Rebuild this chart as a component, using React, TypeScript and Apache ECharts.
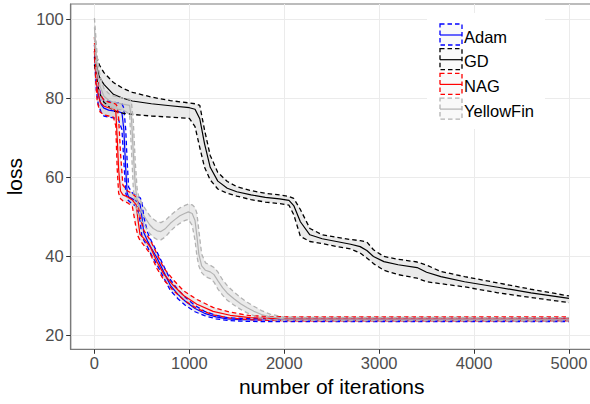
import React, { useEffect, useRef } from "react";
import * as echarts from "echarts";

const FONT = "'Liberation Sans', Arial, Helvetica, sans-serif";

const xTicks = [0, 1000, 2000, 3000, 4000, 5000];
const yTicks = [20, 40, 60, 80, 100];
const legendNames = ["Adam", "GD", "NAG", "YellowFin"];

const adamT = [0, 20, 40, 70, 100, 150, 200, 250, 290, 310, 330, 345, 360, 400, 450, 480, 500, 520, 560, 600, 660, 730, 800, 880, 960, 1060, 1160, 1280, 1400, 1550, 1750, 2000, 5000];
const adamMean = [92, 85, 81, 78.5, 77.5, 77, 76.8, 76.6, 76.3, 72, 62, 56, 55, 54.5, 53.8, 53.2, 50, 46, 43.8, 42, 39.5, 36, 32.6, 30.3, 28.5, 26.7, 25.5, 24.6, 24.1, 23.9, 23.8, 23.8, 23.8];
const adamUpper = [93.5, 88, 83.5, 80.5, 79.5, 79.2, 79, 78.8, 78.6, 77.5, 72, 64, 57.5, 56, 55.2, 54.8, 54, 50, 46, 43.8, 41, 37.5, 34, 31.5, 29.5, 27.5, 26, 25, 24.4, 24.2, 24.2, 24.2, 24.2];
const adamLower = [90.5, 82, 78.5, 76.5, 75.5, 75.2, 75, 74.8, 72, 64, 56, 54.5, 54, 53.2, 52.5, 49, 45, 44, 42.3, 40.3, 37.8, 34.5, 31.3, 29.2, 27.5, 25.9, 24.9, 24.1, 23.7, 23.5, 23.4, 23.4, 23.4];

const gdT = [0, 50, 100, 200, 300, 400, 600, 800, 1000, 1060, 1110, 1160, 1220, 1300, 1400, 1500, 1650, 1800, 1950, 2050, 2100, 2170, 2270, 2400, 2550, 2700, 2800, 2870, 2940, 3050, 3200, 3400, 3500, 3650, 3900, 4250, 4600, 5000];
const gdMean = [90.5, 85.5, 83.5, 81, 80, 79.3, 78.6, 78.1, 77.6, 77.2, 74.8, 68.5, 62.5, 59, 57.2, 56.3, 55.5, 54.9, 54.5, 54.1, 52.8, 48.7, 45.4, 44.4, 43.7, 43.0, 42.4, 41.4, 39.9, 38.6, 37.8, 37.1, 35.9, 34.8, 33.5, 32.1, 30.7, 29.3];
const gdUpper = [92.5, 88.5, 86.5, 84, 82.5, 81.5, 80.3, 79.4, 78.8, 78.6, 78.2, 72, 65.5, 61.2, 58.9, 57.6, 56.6, 55.9, 55.5, 55.1, 54.6, 51.8, 47, 45.4, 44.8, 44.2, 43.9, 43.6, 41.6, 39.9, 39.2, 38.5, 37.7, 36.1, 34.8, 33.2, 31.6, 29.9];
const gdLower = [88.5, 81.5, 79, 76.8, 76.2, 75.9, 75.5, 75.2, 74.9, 72.8, 67.5, 62.5, 59.3, 57, 55.9, 55.2, 54.3, 53.7, 53.3, 52.9, 50.5, 45, 43.7, 43.2, 42.4, 41.8, 40.8, 39.5, 38.1, 36.4, 35.3, 34.4, 33.5, 33.0, 32.2, 30.7, 29.5, 28.2];

const nagT = [0, 15, 30, 60, 100, 150, 200, 225, 240, 255, 275, 300, 350, 400, 440, 460, 480, 520, 590, 660, 730, 830, 940, 1080, 1250, 1430, 1640, 1850, 2100, 5000];
const nagMean = [94, 87, 82, 79, 78, 77.6, 77.3, 76.8, 70, 62, 56.5, 55.5, 55, 54.2, 53, 49, 45.5, 44.5, 42.3, 38.5, 35.5, 32.6, 30, 27.8, 26, 25, 24.4, 24.2, 24.1, 24.1];
const nagUpper = [95.5, 90, 85, 81, 79.5, 79, 78.8, 78.5, 78, 75, 66, 58, 56.5, 55.8, 55, 53.5, 50, 46.5, 44, 40.5, 37, 34, 31.2, 29, 27, 25.8, 24.9, 24.7, 24.6, 24.6];
const nagLower = [92, 84, 79, 76.5, 75.8, 75.5, 75.2, 73, 62, 56, 54.5, 54, 53.5, 52.5, 47, 45, 44, 42.8, 40.5, 36.8, 34, 31.3, 28.9, 26.7, 25.1, 24.3, 23.9, 23.7, 23.6, 23.6];

const yfT = [0, 15, 30, 60, 100, 150, 200, 300, 370, 390, 410, 430, 450, 470, 500, 540, 580, 620, 660, 700, 750, 800, 850, 900, 950, 990, 1030, 1060, 1080, 1100, 1130, 1170, 1220, 1260, 1300, 1350, 1400, 1470, 1540, 1610, 1680, 1760, 1850, 2000, 5000];
const yfMean = [98, 92, 87, 83, 80.5, 79.5, 79, 78.5, 78.2, 75, 66, 58, 54, 52.5, 51, 49.5, 48, 47, 46.4, 46.2, 47, 48.3, 49.3, 50.2, 50.8, 51.2, 50.8, 49, 45, 40.5, 37.5, 36.4, 36, 35.3, 33.8, 32, 30.6, 29.2, 27.9, 26.9, 26, 25.2, 24.6, 24.1, 24.0];
const yfUpper = [100.3, 95.5, 90.5, 85.5, 82.5, 81.2, 80.6, 80, 79.8, 79, 74, 64, 57, 54.8, 53.3, 51.8, 50.3, 49.4, 48.7, 48.5, 49.1, 50.3, 51.3, 52.2, 52.8, 53.2, 53, 52.3, 50.8, 46.5, 40.5, 38.3, 37.7, 37.1, 36, 34, 32.5, 30.9, 29.5, 28.3, 27.3, 26.2, 25.3, 24.5, 24.4];
const yfLower = [95.5, 88.5, 84, 80.5, 78.5, 77.8, 77.4, 77, 76, 67, 57, 53, 51.3, 50.2, 48.8, 47.3, 45.8, 44.8, 44.2, 44.1, 44.9, 46.3, 47.4, 48.3, 49, 49.3, 47.8, 44, 40, 37.5, 35.8, 34.8, 34.3, 33.4, 31.7, 30.1, 28.8, 27.6, 26.5, 25.6, 24.9, 24.3, 23.9, 23.7, 23.6];

const COLORS = ["#0000FF", "#000000", "#FF0000", "#B3B3B3"];

const groups = [
  { name: legendNames[0], color: COLORS[0], t: adamT, mean: adamMean, upper: adamUpper, lower: adamLower },
  { name: legendNames[1], color: COLORS[1], t: gdT, mean: gdMean, upper: gdUpper, lower: gdLower },
  { name: legendNames[2], color: COLORS[2], t: nagT, mean: nagMean, upper: nagUpper, lower: nagLower },
  { name: legendNames[3], color: COLORS[3], t: yfT, mean: yfMean, upper: yfUpper, lower: yfLower },
];

const pairs = (t: number[], v: number[]) => t.map((x, i) => [x, v[i]]);

function buildSeries() {
  const series: any[] = [];
  groups.forEach((g) => {
    series.push({
      type: "custom",
      name: g.name + "-band",
      coordinateSystem: "cartesian2d",
      silent: true,
      z: 1,
      data: [[g.t[0], g.mean[0]]],
      renderItem: (_params: any, api: any) => {
        const pts: number[][] = [];
        for (let i = 0; i < g.t.length; i++) pts.push(api.coord([g.t[i], g.upper[i]]));
        for (let i = g.t.length - 1; i >= 0; i--) pts.push(api.coord([g.t[i], g.lower[i]]));
        return { type: "polygon", shape: { points: pts }, style: { fill: "rgba(150,150,150,0.2)", stroke: null } };
      },
    });
  });
  groups.forEach((g) => {
    series.push({
      type: "line", name: g.name, data: pairs(g.t, g.mean), showSymbol: false, symbol: "none",
      z: 3, lineStyle: { color: g.color, width: 1.2 }, silent: true,
    });
    series.push({
      type: "line", name: g.name + "-up", data: pairs(g.t, g.upper), showSymbol: false, symbol: "none",
      z: 3, lineStyle: { color: g.color, width: 1.3, type: [4.5, 3] }, silent: true,
    });
    series.push({
      type: "line", name: g.name + "-lo", data: pairs(g.t, g.lower), showSymbol: false, symbol: "none",
      z: 3, lineStyle: { color: g.color, width: 1.3, type: [4.5, 3] }, silent: true,
    });
  });
  return series;
}

function buildLegend() {
  const els: any[] = [
    { type: "rect", shape: { x: 427, y: 13, width: 118, height: 116 }, style: { fill: "#ffffff" }, z: 50 },
  ];
  legendNames.forEach((name, i) => {
    const top = 24 + i * 24.7;
    els.push({
      type: "rect", shape: { x: 440, y: top, width: 22, height: 21 },
      style: { fill: "rgba(150,150,150,0.06)", stroke: COLORS[i], lineWidth: 1.3, lineDash: [4.5, 3] }, z: 51,
    });
    els.push({
      type: "line", shape: { x1: 440, y1: top + 11, x2: 462, y2: top + 11 },
      style: { stroke: COLORS[i], lineWidth: 1.2 }, z: 52,
    });
    els.push({
      type: "text", x: 464, y: top + 12.5,
      style: { text: name, fill: "#000", fontSize: 16.5, fontFamily: FONT, verticalAlign: "middle", align: "left" }, z: 52,
    });
  });
  return els;
}

export default function App() {
  const ref = useRef<HTMLDivElement>(null);
  useEffect(() => {
    if (!ref.current) return;
    const chart = echarts.init(ref.current, null, { renderer: "svg" });
    const axisCommon = {
      type: "value",
      axisLine: { show: true, onZero: false, lineStyle: { color: "#7a7a7a", width: 1.2 } },
      splitLine: { show: true, lineStyle: { color: "#ebebeb", width: 1 } },
    };
    chart.setOption({
      animation: false,
      backgroundColor: "#ffffff",
      grid: {
        left: 70.7, top: 4, width: 522, height: 345.3, show: true,
        borderColor: "#7a7a7a", borderWidth: 1.2, backgroundColor: "transparent",
        containLabel: false, outerBoundsMode: "none",
      },
      xAxis: {
        ...axisCommon,
        min: -250, max: 5250, splitNumber: 11,
        axisTick: { show: true, length: 4.5, customValues: xTicks, lineStyle: { color: "#333", width: 1 } },
        axisLabel: {
          customValues: xTicks, color: "#4d4d4d", fontSize: 16.5, fontFamily: FONT, margin: 5,
          formatter: (v: number) => String(v),
        },
        name: "number of iterations", nameLocation: "middle", nameGap: 26,
        nameTextStyle: { color: "#000", fontSize: 21, fontFamily: FONT },
      },
      yAxis: {
        ...axisCommon,
        min: 16.38, max: 103.88, splitNumber: 9,
        axisTick: { show: true, length: 4.5, customValues: yTicks, lineStyle: { color: "#333", width: 1 } },
        axisLabel: {
          customValues: yTicks, color: "#4d4d4d", fontSize: 16.5, fontFamily: FONT, margin: 7,
          formatter: (v: number) => String(v),
        },
        name: "loss", nameLocation: "middle", nameGap: 40, nameRotate: 90,
        nameTextStyle: { color: "#000", fontSize: 21, fontFamily: FONT },
      },
      series: buildSeries(),
      graphic: { elements: buildLegend() },
    });
    return () => chart.dispose();
  }, []);
  return <div ref={ref} style={{ position: "fixed", left: 0, top: 0, width: 590, height: 404, background: "#fff" }} />;
}
